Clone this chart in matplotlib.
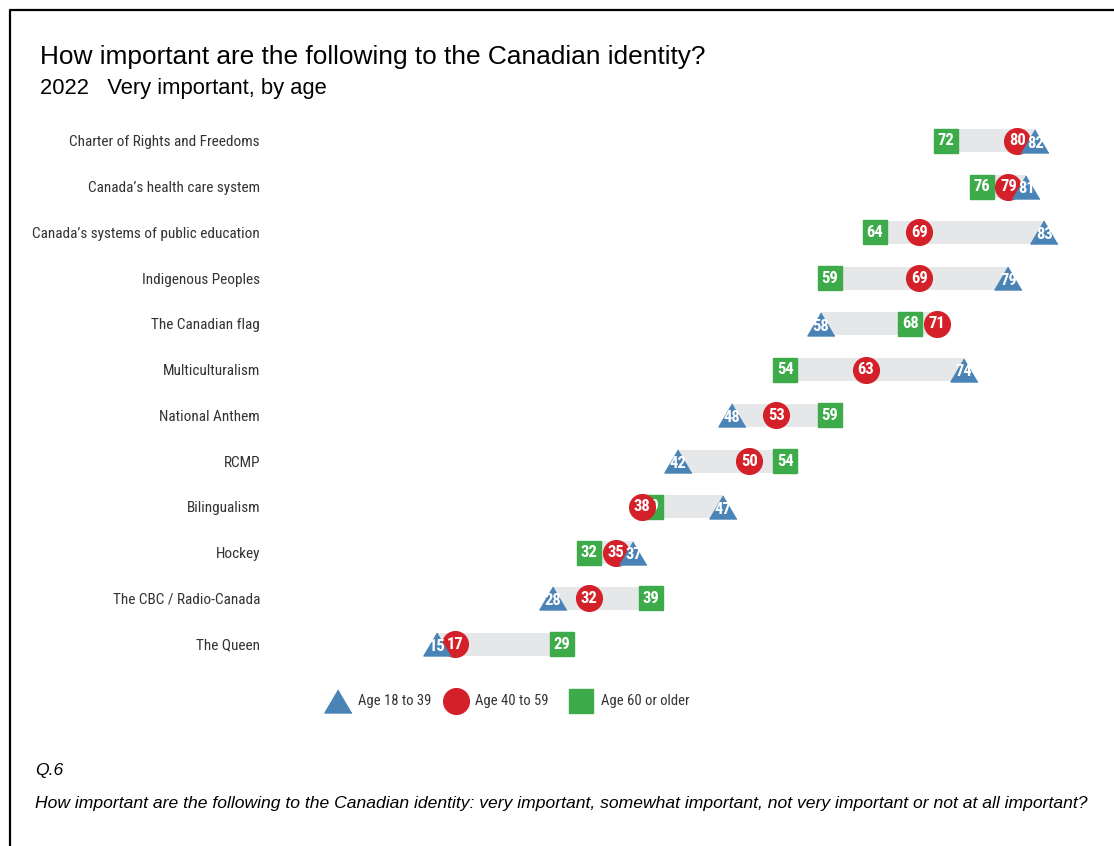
import matplotlib.pyplot as plt

# data (share saying "very important", %)
categories = ["Charter of Rights and Freedoms", "Canada’s health care system",
              "Canada’s systems of public education", "Indigenous Peoples",
              "The Canadian flag", "Multiculturalism", "National Anthem", "RCMP",
              "Bilingualism", "Hockey", "The CBC / Radio-Canada", "The Queen"]
age_18_39 = [82, 81, 83, 79, 58, 74, 48, 42, 47, 37, 28, 15]
age_40_59 = [80, 79, 69, 69, 71, 63, 53, 50, 38, 35, 32, 17]
age_60_up = [72, 76, 64, 59, 68, 54, 59, 54, 39, 32, 39, 29]
series_names = ["Age 18 to 39", "Age 40 to 59", "Age 60 or older"]

BLUE = "#4a84b6"
RED = "#d42129"
GREEN = "#3dab4a"
BAND = "#e6e7e8"
NARROW = ["Roboto Condensed", "Lato", "DejaVu Sans"]
ARIAL = ["Liberation Sans", "DejaVu Sans"]
TRI = [(0, 0.85), (-1, -0.85), (1, -0.85)]

W, H = 1114, 846
fig = plt.figure(figsize=(W / 100, H / 100), dpi=100)

# background overlay in pixel coordinates for frame, titles, legend, notes
bg = fig.add_axes([0, 0, 1, 1])
bg.set_xlim(0, W)
bg.set_ylim(H, 0)
bg.axis("off")
bg.plot([10, 10, W + 5], [H + 5, 10, 10], color="black", lw=1.6)
bg.text(40, 64, "How important are the following to the Canadian identity?",
        family=ARIAL, fontsize=18.9, va="baseline")
bg.text(40, 94, "2022   Very important, by age", family=ARIAL, fontsize=15.8,
        va="baseline")
bg.text(35, 775, "Q.6", family=ARIAL, fontsize=12.6, style="italic", va="baseline")
bg.text(35, 808, "How important are the following to the Canadian identity: very important, "
        "somewhat important, not very important or not at all important?",
        family=ARIAL, fontsize=12.6, style="italic", va="baseline")

# legend
leg_y = 701
bg.plot(338, leg_y, marker=TRI, ms=19.5, color=BLUE, ls="none")
bg.text(358, leg_y, series_names[0], family=NARROW, fontsize=10.5, va="center",
        color="#333333")
bg.plot(456, leg_y, marker="o", ms=18.5, color=RED, ls="none")
bg.text(475, leg_y, series_names[1], family=NARROW, fontsize=10.5, va="center",
        color="#333333")
bg.plot(581, leg_y, marker="s", ms=17, color=GREEN, ls="none")
bg.text(601, leg_y, series_names[2], family=NARROW, fontsize=10.5, va="center",
        color="#333333")

# main plot: value 0 at x=303 px, ~8.93 px per point
x0, xscale = 303, 8.93
xmax = 90
top, bottom = 118, 667
ax = fig.add_axes([x0 / W, 1 - bottom / H, xmax * xscale / W, (bottom - top) / H])
ax.set_facecolor("none")
ax.set_xlim(0, xmax)
ax.set_ylim(len(categories) - 0.5, -0.5)
for s in ax.spines.values():
    s.set_visible(False)
ax.set_xticks([])
ax.set_yticks(range(len(categories)))
ax.set_yticklabels(categories, family=NARROW, fontsize=11, color="#333333")
ax.tick_params(axis="y", length=0, pad=31)

for i in range(len(categories)):
    vals = [age_18_39[i], age_40_59[i], age_60_up[i]]
    lo, hi = min(vals), max(vals)
    ax.barh(i, hi - lo, left=lo, height=0.5, color=BAND, zorder=1)

    ax.plot(age_60_up[i], i, marker="s", ms=17, color=GREEN, ls="none", zorder=2)
    ax.text(age_60_up[i], i, str(age_60_up[i]), color="white", family=NARROW,
            fontsize=12, fontweight="bold", ha="center", va="center", zorder=2.5)
    ax.plot(age_40_59[i], i, marker="o", ms=18.5, color=RED, ls="none", zorder=3)
    ax.text(age_40_59[i], i, str(age_40_59[i]), color="white", family=NARROW,
            fontsize=12, fontweight="bold", ha="center", va="center", zorder=3.5)
    ax.plot(age_18_39[i], i, marker=TRI, ms=19.5, color=BLUE, ls="none", zorder=4)
    ax.text(age_18_39[i], i + 0.05, str(age_18_39[i]), color="white", family=NARROW,
            fontsize=12, fontweight="bold", ha="center", va="center", zorder=4.5)

fig.savefig("out.png", dpi=100)
